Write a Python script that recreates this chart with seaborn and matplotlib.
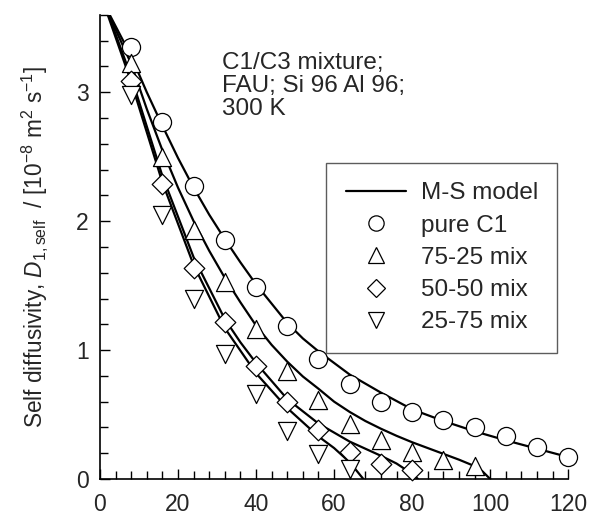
import pandas as pd
import seaborn as sns
import matplotlib
matplotlib.use("Agg")
import matplotlib.pyplot as plt
from matplotlib.lines import Line2D
from matplotlib.ticker import MultipleLocator

# simulation points: C1 loading vs C1 self diffusivity
loading = [8, 16, 24, 32, 40, 48, 56, 64, 72, 80, 88, 96, 104, 112, 120]
pure_c1 = [3.35, 2.77, 2.27, 1.85, 1.49, 1.19, 0.93, 0.74, 0.60, 0.52, 0.46, 0.40, 0.33, 0.25, 0.17]
mix_75_25 = [3.23, 2.50, 1.93, 1.53, 1.16, 0.84, 0.61, 0.43, 0.30, 0.21, 0.15, 0.10]
mix_50_50 = [3.09, 2.29, 1.64, 1.22, 0.88, 0.60, 0.38, 0.21, 0.12, 0.07]
mix_25_75 = [2.98, 2.05, 1.40, 0.97, 0.66, 0.37, 0.19, 0.08]

# M-S model curves
model_x_c1 = [0, 2.5, 8, 12, 16, 20, 24, 28, 32, 36, 40, 44, 48, 52, 56, 60, 64, 68, 72,
              80, 88, 96, 104, 112, 120]
model_c1 = [3.76, 3.60, 3.28, 3.00, 2.74, 2.49, 2.26, 2.05, 1.86, 1.68, 1.51, 1.36, 1.21,
            1.09, 0.99, 0.90, 0.81, 0.74, 0.67, 0.54, 0.45, 0.37, 0.30, 0.235, 0.17]
model_x_75 = [0, 2.3, 8, 12, 16, 20, 24, 28, 32, 36, 40, 44, 48, 52, 56, 60, 64, 68, 72,
              76, 80, 84, 88, 92, 96, 98, 100]
model_75 = [3.77, 3.60, 3.22, 2.87, 2.55, 2.26, 2.00, 1.77, 1.56, 1.37, 1.19, 1.04, 0.91,
            0.795, 0.70, 0.60, 0.52, 0.45, 0.39, 0.335, 0.285, 0.24, 0.195, 0.15, 0.10,
            0.06, 0.0]
model_x_50 = [0, 2.2, 8, 16, 24, 32, 36, 40, 48, 56, 60, 64, 72, 76, 80, 81.5]
model_50 = [3.78, 3.60, 3.12, 2.35, 1.72, 1.24, 1.06, 0.90, 0.62, 0.43, 0.36, 0.29, 0.18,
            0.12, 0.04, 0.0]
model_x_25 = [0, 2.0, 8, 16, 24, 32, 40, 48, 56, 60, 64, 67.5]
model_25 = [3.80, 3.60, 3.08, 2.30, 1.66, 1.17, 0.82, 0.55, 0.33, 0.24, 0.13, 0.0]

series = [("pure C1", pure_c1, "o", 170),
          ("75-25 mix", mix_75_25, "^", 170),
          ("50-50 mix", mix_50_50, "D", 110),
          ("25-75 mix", mix_25_75, "v", 170)]
models = [(model_x_c1, model_c1), (model_x_75, model_75),
          (model_x_50, model_50), (model_x_25, model_25)]

sns.set_theme(style="ticks")
plt.rcParams["font.family"] = ["Liberation Sans", "DejaVu Sans"]
plt.rcParams["mathtext.fontset"] = "custom"
plt.rcParams["mathtext.rm"] = "Liberation Sans"
plt.rcParams["mathtext.it"] = "Liberation Sans:italic"

fig = plt.figure(figsize=(5.95, 5.18), dpi=100)
ax = fig.add_axes([0.168, 0.0753, 0.787, 0.896])

for mx, my in models:
    df = pd.DataFrame({"x": mx, "y": my})
    sns.lineplot(data=df, x="x", y="y", ax=ax, color="black", lw=1.6,
                 sort=False, estimator=None)

for name, vals, mk, sz in series:
    df = pd.DataFrame({"x": loading[:len(vals)], "y": vals})
    sns.scatterplot(data=df, x="x", y="y", ax=ax, marker=mk, s=sz,
                    facecolor="white", edgecolor="black", linewidth=0.9,
                    zorder=3, clip_on=False)

ax.set_xlim(0, 120)
ax.set_ylim(0, 3.6)
ax.xaxis.set_major_locator(MultipleLocator(20))
ax.xaxis.set_minor_locator(MultipleLocator(4))
ax.yaxis.set_major_locator(MultipleLocator(1))
ax.yaxis.set_minor_locator(MultipleLocator(0.2))
ax.tick_params(which="both", direction="in", color="black", width=1)
ax.tick_params(which="major", length=7, labelsize=16.5)
ax.tick_params(which="minor", length=5.5)
ax.tick_params(axis="x", which="major", pad=10)
ax.tick_params(axis="y", which="major", pad=8)
sns.despine(ax=ax)
for sp in ("left", "bottom"):
    ax.spines[sp].set_color("black")
    ax.spines[sp].set_linewidth(1.2)

ax.set_xlabel("")
ax.set_ylabel(r"Self diffusivity, $\mathit{D}_{\mathrm{1,self}}$  / [10$^{-8}$ m$^{2}$ s$^{-1}$]",
              fontsize=16.3, labelpad=19)

ax.text(0.261, 0.92, "C1/C3 mixture;\nFAU; Si 96 Al 96;\n300 K",
        transform=ax.transAxes, fontsize=17.5, va="top", ha="left", linespacing=1.05)

handles = [Line2D([], [], color="black", lw=1.6)]
labels = ["M-S model"]
for name, vals, mk, sz in series:
    handles.append(Line2D([], [], ls="none", marker=mk, markersize=11 if mk != "D" else 9,
                          markerfacecolor="white", markeredgecolor="black",
                          markeredgewidth=0.9))
    labels.append(name)
leg = ax.legend(handles, labels, loc="upper right", bbox_to_anchor=(0.9765, 0.681),
                borderaxespad=0, fontsize=17.5, frameon=True, fancybox=False,
                handlelength=2.5, handletextpad=0.58, labelspacing=0.42,
                borderpad=0.8)
leg.get_frame().set_edgecolor("#333333")
leg.get_frame().set_linewidth(1.0)

fig.savefig("out.png", dpi=100)
